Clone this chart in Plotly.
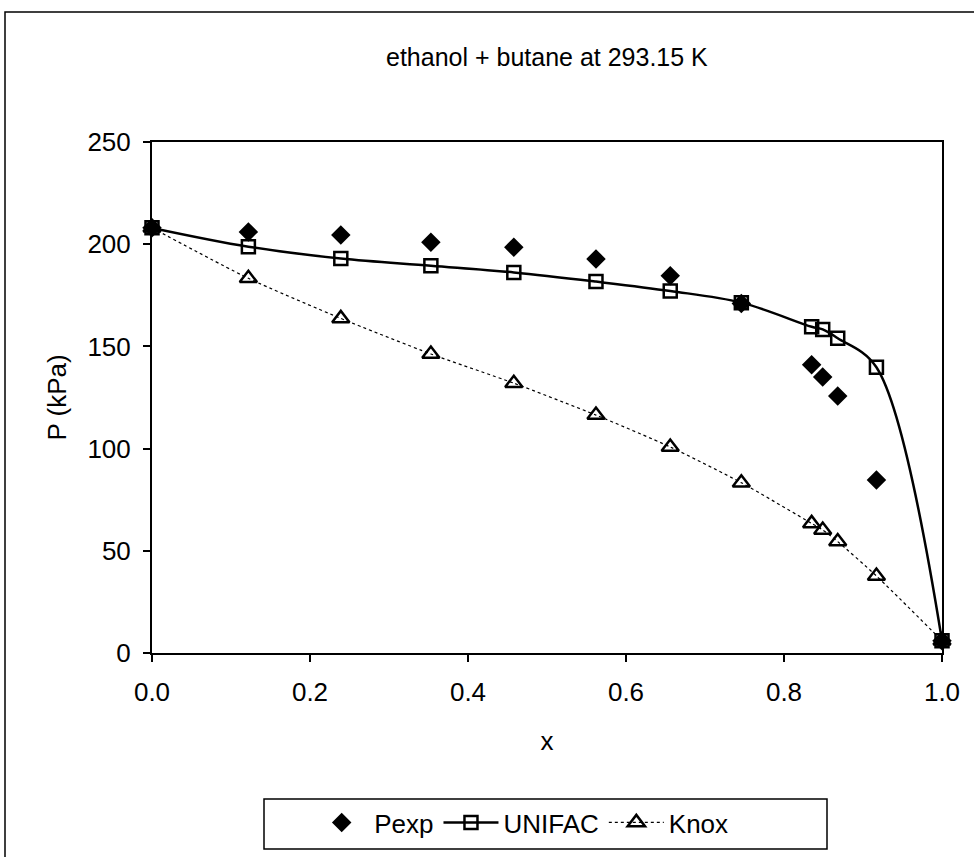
import plotly.graph_objects as go

# ---- data ----
x_vals = [0.0, 0.122, 0.239, 0.353, 0.458, 0.562, 0.656, 0.746, 0.835, 0.849, 0.868, 0.917, 1.0]
p_exp = [208, 206, 204.5, 201, 198.5, 192.8, 184.6, 171, 141, 135, 125.7, 84.6, 6]
p_unifac = [208, 198.8, 193, 189.5, 186.2, 181.7, 177.1, 171.4, 159.6, 158.3, 154, 139.8, 6]
p_knox = [208, 183.3, 163.7, 146.3, 132, 116.4, 100.8, 83.3, 63.4, 60.2, 54.5, 37.7, 6]

x_ticks = [0.0, 0.2, 0.4, 0.6, 0.8, 1.0]
y_ticks = [0, 50, 100, 150, 200, 250]

FONT = "Liberation Sans, Arial, sans-serif"

fig = go.Figure()
fig.add_trace(go.Scatter(
    x=x_vals, y=p_exp, name="Pexp", mode="markers",
    marker=dict(symbol="diamond", size=15, color="black", line=dict(width=0)),
    cliponaxis=False))
fig.add_trace(go.Scatter(
    x=x_vals, y=p_unifac, name="UNIFAC", mode="lines+markers",
    line=dict(color="black", width=2.5, shape="spline", smoothing=1),
    marker=dict(symbol="square-open", size=13, color="black", line=dict(width=2.5, color="black")),
    cliponaxis=False))
fig.add_trace(go.Scatter(
    x=x_vals, y=p_knox, name="Knox", mode="lines+markers",
    line=dict(color="black", width=1.2, dash="dot", shape="spline", smoothing=0.6),
    marker=dict(symbol="triangle-up-open", size=15, color="black", line=dict(width=2.5, color="black")),
    cliponaxis=False))

fig.update_layout(
    width=974, height=857,
    margin=dict(l=152, r=32, t=142, b=204, autoexpand=False),
    paper_bgcolor="white", plot_bgcolor="white",
    font=dict(family=FONT, size=26, color="black"),
    title=dict(text="ethanol + butane at 293.15 K", x=0.5615, xanchor="center",
               y=1 - 57 / 857, yref="container", yanchor="middle",
               font=dict(family=FONT, size=25, color="black")),
    showlegend=True,
    legend=dict(orientation="h", x=0.199, xanchor="left", y=-0.2857, yanchor="top",
                borderwidth=0, bgcolor="rgba(0,0,0,0)", itemwidth=55,
                font=dict(family=FONT, size=26, color="black")),
    shapes=[
        dict(type="rect", xref="paper", yref="paper",
             x0=(5 - 152) / 790, x1=(990 - 152) / 790,
             y0=(653 - 12) / 511, y1=(653 - 880) / 511,
             line=dict(color="black", width=1.5), layer="below"),
        dict(type="rect", xref="paper", yref="paper",
             x0=(264 - 152) / 790, x1=(827 - 152) / 790,
             y0=(653 - 799) / 511, y1=(653 - 849) / 511,
             line=dict(color="black", width=1.5), layer="below"),
    ],
)

fig.update_xaxes(range=[0, 1], tickvals=x_ticks, tickformat=".1f",
                 showline=True, linecolor="black", linewidth=2, mirror=True,
                 ticks="outside", ticklen=7, tickcolor="black", tickwidth=1.5,
                 ticklabelstandoff=8,
                 showgrid=False, zeroline=False, automargin=False,
                 title=dict(text="x", standoff=26, font=dict(size=26)))
fig.update_yaxes(range=[0, 250], tickvals=y_ticks,
                 showline=True, linecolor="black", linewidth=2, mirror=True,
                 ticks="outside", ticklen=7, tickcolor="black", tickwidth=1.5,
                 ticklabelstandoff=7,
                 showgrid=False, zeroline=False, automargin=False,
                 title=dict(text="P (kPa)", standoff=13, font=dict(size=26)))

fig.write_html("out.html")
